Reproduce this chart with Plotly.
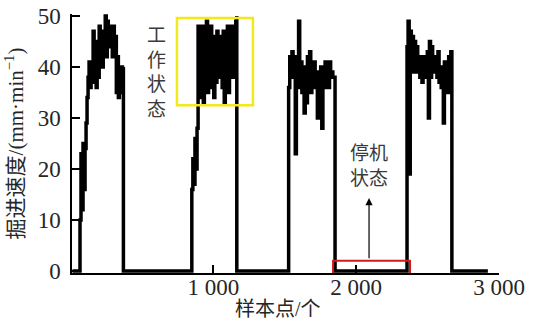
import numpy as np
import plotly.graph_objects as go

# Advance speed (mm/min) sampled during the four working periods
seg1_speed = [10, 23, 12, 25, 16, 24, 29, 34, 38, 41, 36, 40, 37, 47, 39, 45, 36, 43, 38, 48, 41, 47,
              40, 46, 43, 50, 42, 49, 45, 48, 44, 47, 42, 48, 44, 46, 35, 42, 34, 38, 35, 40, 37, 40]
seg2_speed = [16, 22, 17, 26, 20, 28, 48, 34, 46, 36, 48, 33, 45, 38, 49, 35, 47, 40, 48, 36, 44, 34,
              46, 37, 47, 39, 45, 38, 46, 36, 47, 33, 45, 38, 48, 35, 46, 39, 48, 38, 47, 40, 49, 50]
seg3_speed = [36, 42, 38, 43, 39, 42, 23, 42, 36, 49, 38, 41, 35, 40, 31, 39, 33, 42, 36, 43, 35, 40,
              37, 41, 36, 39, 30, 38, 34, 40, 28, 39, 36, 41, 38, 40, 36, 41, 38, 39, 38, 38, 36]
seg4_speed = [44, 49, 19, 47, 40, 46, 39, 45, 41, 44, 39, 42, 38, 41, 37, 42, 39, 41, 38, 43, 30, 45,
              38, 44, 39, 42, 40, 41, 38, 43, 37, 40, 36, 39, 29, 41, 36, 40, 35, 42, 39, 43, 40]

# Sample index where each working period starts and ends
work_start = [66, 849, 1527, 2356]
work_end = [370, 1164, 1852, 2670]
series_start = 14
series_end = 2922

x_ticks = [1000, 2000, 3000]
x_tick_text = ["1 000", "2 000", "3 000"]
y_ticks = [0, 10, 20, 30, 40, 50]

# Assemble the full sample sequence: zero while stopped, measured speed while working
segments = [seg1_speed, seg2_speed, seg3_speed, seg4_speed]
xs, ys = [series_start], [0]
for s, e, vals in zip(work_start, work_end, segments):
    xi = np.linspace(s, e, len(vals))
    xs += [s] + list(xi) + [e]
    ys += [0] + list(vals) + [0]
xs.append(series_end)
ys.append(0)

fig = go.Figure()
fig.add_trace(go.Scatter(x=xs, y=ys, mode="lines",
                         line=dict(color="black", width=3.5, shape="hv"),
                         showlegend=False))

font_main = "Liberation Serif, Noto Sans CJK SC, serif"
label_color = "#3a3a3a"
text_color = "#262626"

# Working-state highlight and label
fig.add_shape(type="rect", x0=745, x1=1277, y0=32.5, y1=49.6,
              line=dict(color="#f2e81e", width=2.5), fillcolor="rgba(0,0,0,0)")
fig.add_annotation(x=600, y=39, text="工<br>作<br>状<br>态", showarrow=False,
                   font=dict(family=font_main, size=19, color=label_color),
                   xanchor="center", yanchor="middle")

# Stopped-state highlight, arrow and label
fig.add_shape(type="rect", x0=1838, x1=2377, y0=-1.2, y1=2.0,
              line=dict(color="#d41a1a", width=2), fillcolor="rgba(0,0,0,0)")
fig.add_annotation(x=2090, y=14.3, ax=2090, ay=2.2, axref="x", ayref="y",
                   text="", showarrow=True, arrowhead=2, arrowsize=1.2,
                   arrowwidth=1.2, arrowcolor="black")
fig.add_annotation(x=2090, y=20.5, text="停机<br>状态", showarrow=False,
                   font=dict(family=font_main, size=19, color=label_color),
                   xanchor="center", yanchor="middle")

# x-axis title
fig.add_annotation(x=0.482, y=-0.14, xref="paper", yref="paper",
                   text="样本点/个", showarrow=False,
                   font=dict(family=font_main, size=20, color=text_color),
                   xanchor="center", yanchor="middle")

fig.update_layout(
    width=537, height=322,
    margin=dict(l=72, r=38, t=14, b=49),
    paper_bgcolor="white", plot_bgcolor="white",
    font=dict(family=font_main, size=23, color=text_color),
)
fig.update_xaxes(range=[10, 3000], tickvals=x_ticks, ticktext=x_tick_text,
                 ticks="inside", ticklen=8, tickwidth=1.5, tickcolor="black",
                 showline=True, linecolor="black", linewidth=1.5,
                 showgrid=False, zeroline=False, automargin=False,
                 ticklabelstandoff=-7)
fig.update_yaxes(range=[-0.4, 50.4], tickvals=y_ticks,
                 ticks="inside", ticklen=8, tickwidth=1.5, tickcolor="black",
                 showline=True, linecolor="black", linewidth=1.5,
                 showgrid=False, zeroline=False, automargin=False,
                 ticklabelstandoff=5,
                 title=dict(text="掘进速度/(mm·min<sup>−1</sup>)", standoff=8,
                            font=dict(family=font_main, size=21, color=text_color)))

fig.write_html("out.html")
